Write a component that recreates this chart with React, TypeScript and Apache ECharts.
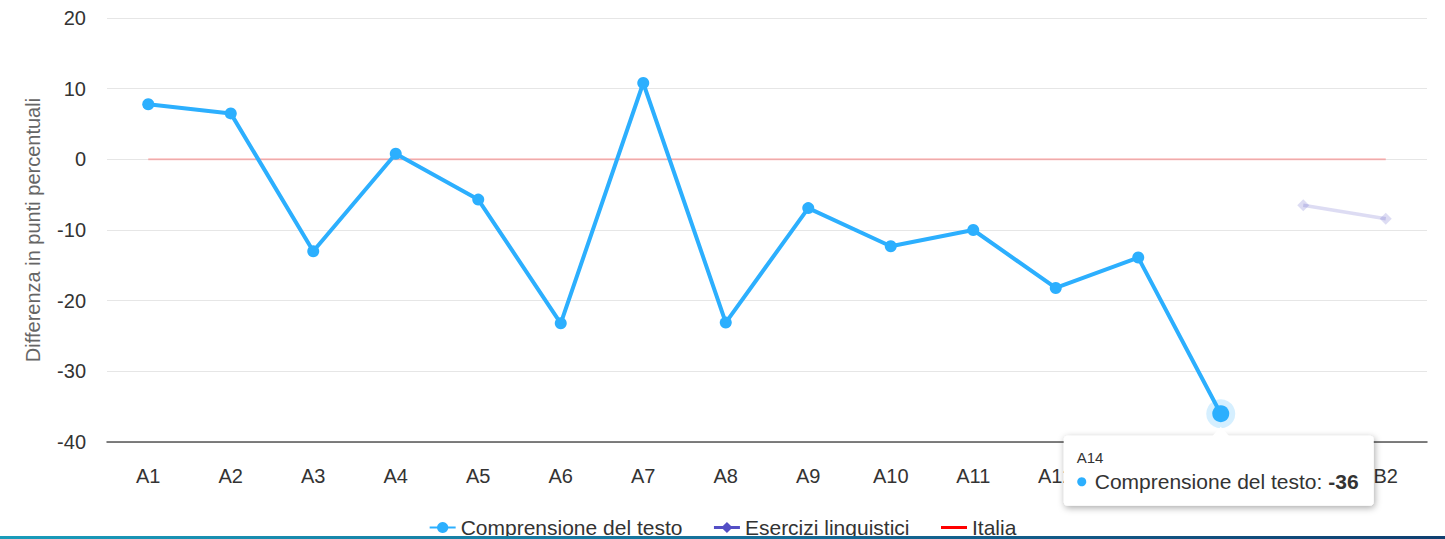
import React, { useEffect, useRef } from "react";
import * as echarts from "echarts";

const categories = ["A1", "A2", "A3", "A4", "A5", "A6", "A7", "A8", "A9", "A10", "A11", "A12", "A13", "A14", "B1", "B2"];
const comprensione = [7.8, 6.5, -13, 0.8, -5.7, -23.2, 10.8, -23.1, -6.9, -12.3, -10, -18.2, -13.9, -36, null, null];
const esercizi = [null, null, null, null, null, null, null, null, null, null, null, null, null, null, -6.5, -8.4];
const italia = [0, 0, 0, 0, 0, 0, 0, 0, 0, 0, 0, 0, 0, 0, 0, 0];
const hoverIndex = 13;
const yTicks = { min: -40, max: 20, interval: 10 };

const FONT = "'Liberation Sans', Arial, Helvetica, sans-serif";
const BLUE = "#2caffe";
const PURPLE = "#544fc5";

export default function App() {
  const ref = useRef<HTMLDivElement>(null);
  useEffect(() => {
    document.body.style.margin = "0";
    const chart = echarts.init(ref.current!, null, { renderer: "svg" });
    const compData = comprensione.map((v, i) =>
      i === hoverIndex && v !== null ? { value: v, symbolSize: 17 } : v
    );
    const haloData = comprensione.map((v, i) => (i === hoverIndex ? v : null));
    const option: any = {
      animation: false,
      textStyle: { fontFamily: FONT },
      grid: { left: 107, right: 18, top: 18, bottom: 97, containLabel: false },
      xAxis: {
        type: "category",
        data: categories,
        boundaryGap: true,
        axisLine: { onZero: false, lineStyle: { color: "#555", width: 1.5 } },
        axisTick: { show: false },
        axisLabel: { color: "#333", fontSize: 20, margin: 24, fontFamily: FONT },
        splitLine: { show: false },
      },
      yAxis: {
        type: "value",
        min: yTicks.min,
        max: yTicks.max,
        interval: yTicks.interval,
        name: "Differenza in punti percentuali",
        nameLocation: "middle",
        nameGap: 64,
        nameTextStyle: { color: "#666", fontSize: 20, fontFamily: FONT },
        axisLine: { show: false },
        axisTick: { show: false },
        axisLabel: { color: "#333", fontSize: 20, margin: 21, fontFamily: FONT },
        splitLine: { lineStyle: { color: "#e6e6e6", width: 1 } },
      },
      legend: {
        bottom: -4,
        left: "center",
        itemGap: 30,
        itemWidth: 26,
        itemHeight: 14,
        textStyle: { color: "#333", fontSize: 21, fontFamily: FONT },
        data: [
          { name: "Comprensione del testo" },
          {
            name: "Esercizi linguistici",
            itemStyle: { opacity: 1, color: PURPLE },
            lineStyle: { opacity: 1, color: PURPLE, width: 3 },
          },
          {
            name: "Italia",
            itemStyle: { opacity: 0 },
            lineStyle: { opacity: 1, color: "#ff0000", width: 3 },
          },
        ],
      },
      series: [
        {
          name: "Italia",
          type: "line",
          data: italia,
          symbol: "none",
          color: "#ff0000",
          lineStyle: { color: "#ff0000", width: 2, opacity: 0.25 },
          z: 1,
        },
        {
          name: "Esercizi linguistici",
          type: "line",
          data: esercizi,
          symbol: "diamond",
          symbolSize: 12,
          color: PURPLE,
          itemStyle: { color: PURPLE, opacity: 0.2 },
          lineStyle: { color: PURPLE, width: 3.5, opacity: 0.2 },
          z: 2,
        },
        {
          name: "halo",
          type: "scatter",
          data: haloData,
          symbolSize: 29,
          itemStyle: { color: "rgba(44,175,254,0.25)" },
          z: 2,
          silent: true,
        },
        {
          name: "Comprensione del testo",
          type: "line",
          data: compData,
          symbol: "circle",
          symbolSize: 12,
          showSymbol: true,
          color: BLUE,
          itemStyle: { color: BLUE },
          lineStyle: { color: BLUE, width: 4 },
          z: 3,
        },
      ],
    };
    chart.setOption(option);

    const hv = comprensione[hoverIndex] as number;
    const [px, py] = chart.convertToPixel({ gridIndex: 0 }, [hoverIndex, hv]) as number[];
    const boxW = 310;
    const boxH = 70;
    const boxL = px - boxW / 2 - 2;
    const boxT = py + 22;
    chart.setOption({
      graphic: [
        {
          type: "rect",
          z: 100,
          shape: { x: boxL, y: boxT, width: boxW, height: boxH, r: 4 },
          style: {
            fill: "#ffffff",
            shadowBlur: 7,
            shadowColor: "rgba(0,0,0,0.35)",
            shadowOffsetX: 1,
            shadowOffsetY: 2,
          },
        },
        {
          type: "polygon",
          z: 101,
          shape: { points: [[px - 9, boxT + 1], [px, boxT - 9], [px + 9, boxT + 1]] },
          style: { fill: "#ffffff" },
        },
        {
          type: "text",
          z: 102,
          x: boxL + 13,
          y: boxT + 22,
          style: {
            text: categories[hoverIndex],
            fill: "#333",
            fontSize: 15,
            fontFamily: FONT,
            verticalAlign: "middle",
          },
        },
        {
          type: "circle",
          z: 102,
          shape: { cx: boxL + 18, cy: boxT + 46, r: 4.5 },
          style: { fill: BLUE },
        },
        {
          type: "text",
          z: 102,
          x: boxL + 31,
          y: boxT + 46,
          style: {
            text: "{a|Comprensione del testo: }{b|" + hv + "}",
            verticalAlign: "middle",
            rich: {
              a: { fill: "#333", fontSize: 21, fontFamily: FONT },
              b: { fill: "#333", fontSize: 21, fontWeight: "bold", fontFamily: FONT },
            },
          },
        },
        {
          type: "rect",
          z: 200,
          left: 0,
          bottom: 0,
          shape: { width: 1445, height: 3 },
          style: {
            fill: new echarts.graphic.LinearGradient(0, 0, 1, 0, [
              { offset: 0, color: "#1a9cba" },
              { offset: 0.5, color: "#15709a" },
              { offset: 1, color: "#0f3f70" },
            ]),
          },
        },
      ],
    });
    return () => chart.dispose();
  }, []);
  return <div ref={ref} style={{ width: 1445, height: 539 }} />;
}
